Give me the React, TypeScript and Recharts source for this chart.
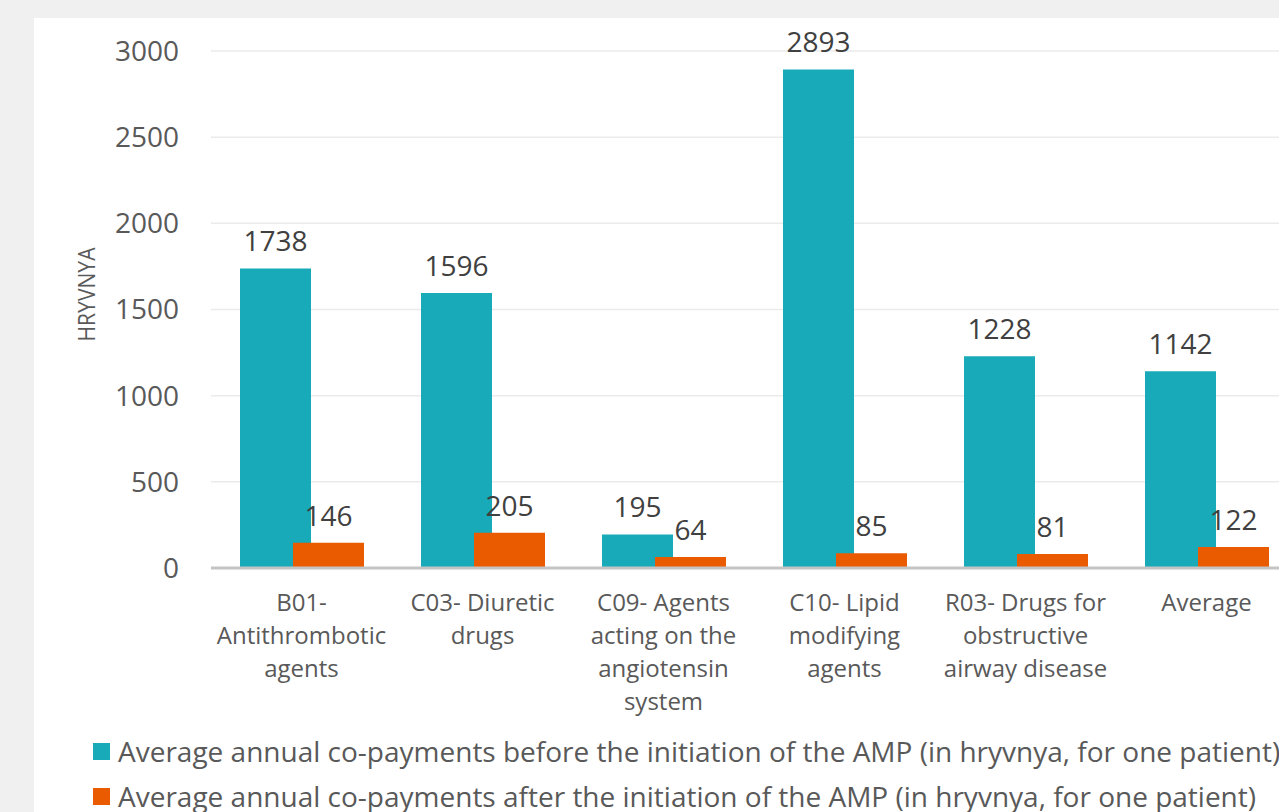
import React from 'react';
import { BarChart, Bar, XAxis, YAxis, CartesianGrid, LabelList, Label } from 'recharts';

const categories = [
  'B01-\nAntithrombotic\nagents',
  'C03- Diuretic\ndrugs',
  'C09- Agents\nacting on the\nangiotensin\nsystem',
  'C10- Lipid\nmodifying\nagents',
  'R03- Drugs for\nobstructive\nairway disease',
  'Average',
];
const beforeValues = [1738, 1596, 195, 2893, 1228, 1142];
const afterValues = [146, 205, 64, 85, 81, 122];
const yTicks = [0, 500, 1000, 1500, 2000, 2500, 3000];

const BEFORE_NAME = 'Average annual co-payments before the initiation of the AMP (in hryvnya, for one patient)';
const AFTER_NAME = 'Average annual co-payments after the initiation of the AMP (in hryvnya, for one patient)';
const TEAL = '#18aab8';
const ORANGE = '#ea5b00';
const FONT = '"Open Sans", sans-serif';

const data = categories.map((name, i) => ({
  name,
  before: beforeValues[i],
  after: afterValues[i],
}));

const CategoryTick = ({ x, y, payload }: any) => {
  const lines = String(payload.value).split('\n');
  return (
    <text x={x} y={y} textAnchor="middle" fill="#595959" fontSize={24} fontFamily={FONT}>
      {lines.map((line, i) => (
        <tspan key={i} x={x} dy={i === 0 ? 43 : 33}>
          {line}
        </tspan>
      ))}
    </text>
  );
};

// axis title is condensed in the original, squeeze it a bit
const YTitle = ({ viewBox }: any) => {
  const cx = 85;
  const cy = viewBox.y + viewBox.height / 2 - 15;
  return (
    <text
      x={cx}
      y={cy}
      transform={`rotate(-90 ${cx} ${cy})`}
      textAnchor="middle"
      dominantBaseline="central"
      fill="#595959"
      fontSize={24}
      fontFamily={FONT}
      textLength={94}
      lengthAdjust="spacingAndGlyphs"
    >
      HRYVNYA
    </text>
  );
};

const legendItems = [
  { label: BEFORE_NAME, color: TEAL },
  { label: AFTER_NAME, color: ORANGE },
];

export default function App() {
  return (
    <div
      style={{
        position: 'absolute',
        left: 0,
        top: 0,
        width: 1279,
        height: 812,
        overflow: 'hidden',
        background: '#f0f0f0',
        fontFamily: FONT,
      }}
    >
      <div style={{ position: 'absolute', left: 34, top: 18, width: 1300, height: 820, background: '#ffffff' }} />
      <div style={{ position: 'absolute', left: 0, top: 0 }}>
        <BarChart
          width={1320}
          height={812}
          data={data}
          margin={{ top: 51, right: 23, left: 0, bottom: 84 }}
          barSize={71}
          barGap={-18}
        >
          <CartesianGrid vertical={false} stroke="#ebebeb" strokeWidth={1.5} />
          <XAxis
            dataKey="name"
            height={160}
            interval={0}
            tickSize={0}
            tickMargin={0}
            tickLine={false}
            axisLine={{ stroke: '#c4c4c4', strokeWidth: 3 }}
            tick={<CategoryTick />}
          />
          <YAxis
            width={211}
            domain={[0, 3000]}
            ticks={yTicks}
            interval={0}
            tickSize={0}
            tickMargin={32}
            axisLine={false}
            tickLine={false}
            tick={{ fill: '#595959', fontSize: 28, fontFamily: FONT }}
          >
            <Label content={<YTitle />} />
          </YAxis>
          <Bar dataKey="before" name={BEFORE_NAME} fill={TEAL} isAnimationActive={false}>
            <LabelList dataKey="before" position="top" offset={17} fill="#404040" fontSize={28} fontFamily={FONT} />
          </Bar>
          <Bar dataKey="after" name={AFTER_NAME} fill={ORANGE} isAnimationActive={false}>
            <LabelList dataKey="after" position="top" offset={17} fill="#404040" fontSize={28} fontFamily={FONT} />
          </Bar>
        </BarChart>
      </div>
      <div style={{ position: 'absolute', left: 93, top: 729 }}>
        {legendItems.map((item) => (
          <div
            key={item.label}
            style={{ display: 'flex', alignItems: 'center', height: 45, whiteSpace: 'nowrap' }}
          >
            <span style={{ display: 'inline-block', width: 17, height: 17, background: item.color, marginRight: 8 }} />
            <span style={{ fontSize: 28, color: '#595959', lineHeight: '45px' }}>{item.label}</span>
          </div>
        ))}
      </div>
    </div>
  );
}
